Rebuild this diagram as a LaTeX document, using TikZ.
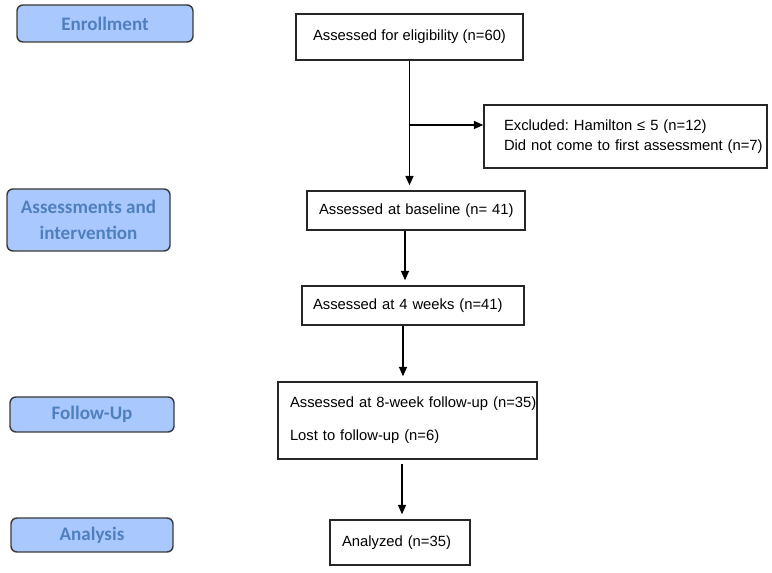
\documentclass[tikz,border=0pt]{standalone}
\usepackage{fontspec}
\setmainfont{Liberation Sans}
\newfontfamily\labfont{Carlito}
\usetikzlibrary{arrows.meta,calc}
\definecolor{lblfill}{HTML}{A9C8FE}
\definecolor{lbltext}{HTML}{4F80BE}
\definecolor{lbldraw}{HTML}{3A3A3A}
\frenchspacing
\begin{document}
\begin{tikzpicture}[x=0.75pt,y=-0.75pt,
  phase/.style={draw=lbldraw, line width=1.1pt, fill=lblfill, rounded corners=4.5pt,
    text=lbltext, font=\labfont\bfseries\fontsize{14.3}{19.5}\selectfont, align=center, inner sep=0pt},
  box/.style={draw=black!85, line width=1.1pt, inner ysep=0pt, font=\fontsize{11.1}{15}\selectfont},
  arr/.style={-{Triangle[length=7pt,width=6pt]}, line width=1.1pt, shorten >=3.75pt}]
\useasboundingbox (0,0) rectangle (772,573);
% phase labels
\node[phase, minimum width=132pt, minimum height=27.75pt] (enr) at (105,23.5) {Enrollment};
\node[phase, minimum width=122.25pt, minimum height=46.5pt] (ass) at (88.5,220) {Assessments and\\intervention};
\node[phase, minimum width=123pt, minimum height=26.25pt] (fol) at (92,414.5) {Follow-Up};
\node[phase, minimum width=121.5pt, minimum height=25.5pt] (ana) at (92,535) {Analysis};
% flow boxes
\node[box, minimum width=170.25pt, minimum height=34.5pt, inner xsep=0pt] (elig) at (409.5,37) {Assessed for eligibility (n=60)};
\node[box, minimum width=212.25pt, minimum height=47.25pt, inner xsep=15pt, text width=182.25pt, align=left] (excl) at (625.5,136.5)
  {\mbox{Excluded: Hamilton ≤ 5 (n=12)}\\\mbox{Did not come to first assessment (n=7)}};
\node[box, minimum width=163.5pt, minimum height=29.25pt, inner xsep=9pt, text width=145.5pt, align=left] (base) at (416,210.5) {\mbox{Assessed at baseline (n= 41)}};
\node[box, minimum width=166.5pt, minimum height=29.25pt, inner xsep=8.25pt, text width=150pt, align=left] (fw) at (413,305.5) {\mbox{Assessed at 4 weeks (n=41)}};
\node[box, minimum width=194.25pt, minimum height=57.75pt, inner xsep=9pt, text width=176.25pt, align=left] (ew) at (407.5,420.5)
  {\mbox{Assessed at 8-week follow-up (n=35)}\\[9.75pt]\mbox{Lost to follow-up (n=6)}};
\node[box, minimum width=105pt, minimum height=33.75pt, inner xsep=9pt, text width=87pt, align=left] (an) at (400,542.5) {\mbox{Analyzed (n=35)}};
% connectors
\coordinate (br) at (409.5,125);
\coordinate (a1) at ($(base.south)+(-11,0)$);
\coordinate (a2) at ($(fw.south)+(-10,0)$);
\coordinate (a3) at ($(ew.south)+(-5.5,4)$);
\draw[arr] (elig.south) -- (elig.south |- base.north);
\draw[arr, shorten >=0pt] (br) -- (br -| excl.west);
\draw[arr] (a1) -- (a1 |- fw.north);
\draw[arr] (a2) -- (a2 |- ew.north);
\draw[arr] (a3) -- (a3 |- an.north);
\end{tikzpicture}
\end{document}
